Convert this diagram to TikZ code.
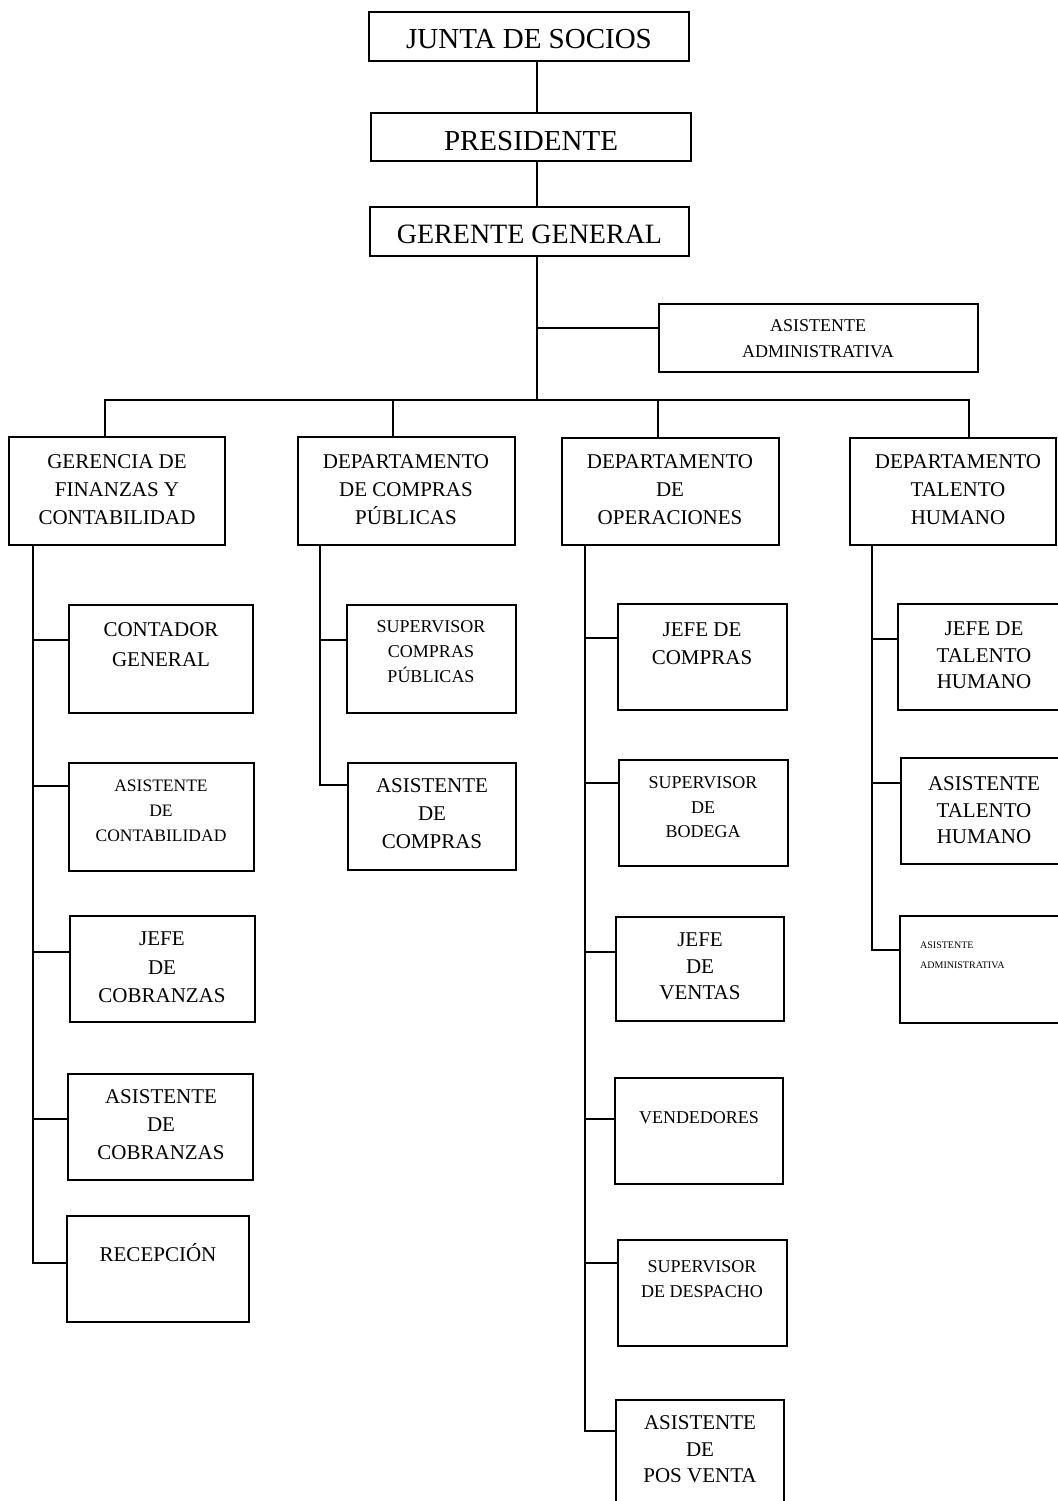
\documentclass[tikz,border=0pt]{standalone}
\usepackage{fontspec}
\setmainfont{Liberation Serif}
\tikzset{
  orgframe/.style={draw, line width=1.3pt, inner sep=0pt, outer sep=0pt},
  link/.style={line width=1.8pt, line cap=rect},
  lbl/.style={align=center, inner sep=0pt},
  big/.style={font=\fontsize{29}{34}\selectfont},
  mid/.style={font=\fontsize{21}{28}\selectfont},
  sml/.style={font=\fontsize{18}{25}\selectfont},
}
% \orgbox{name}{x1}{y1}{x2}{y2}: framed rectangle between two corners
\newcommand\orgbox[5]{%
  \node[orgframe, minimum width={(#4)-(#2)}, minimum height={(#5)-(#3)}]
    (#1) at ({(#2+#4)/2},{(#3+#5)/2}) {};}
\begin{document}
\begin{tikzpicture}[x=1pt,y=-1pt]
\useasboundingbox (0,0) rectangle (1057,1501);

% ---- top of the hierarchy
\orgbox{junta}{369}{12}{689}{61}
\orgbox{pres}{371}{113}{691}{161}
\orgbox{gg}{370}{207}{689}{256}
\orgbox{asis}{659}{304}{978}{372}
\node[lbl,big] (junta-t) at (529,39) {JUNTA DE SOCIOS};
\node[lbl,big] (pres-t) at (531,141) {PRESIDENTE};
\node[lbl,font=\fontsize{28}{34}\selectfont] (gg-t) at (529.5,234) {GERENTE GENERAL};
\node[lbl,font=\fontsize{18}{26}\selectfont] (asis-t) at (818,339) {ASISTENTE\\ADMINISTRATIVA};

% ---- departments
\orgbox{fin}{9}{437}{225}{545}
\orgbox{comp}{298}{437}{515}{545}
\orgbox{ops}{562}{438}{779}{545}
\orgbox{tal}{850}{438}{1056}{545}
\node[lbl,mid] (fin-t) at (117,490) {GERENCIA DE\\FINANZAS Y\\CONTABILIDAD};
\node[lbl,mid] (comp-t) at (406,490) {DEPARTAMENTO\\DE COMPRAS\\PÚBLICAS};
\node[lbl,mid] (ops-t) at (670,490) {DEPARTAMENTO\\DE\\OPERACIONES};
\node[lbl,mid] (tal-t) at (958,490) {DEPARTAMENTO\\TALENTO\\HUMANO};

% ---- finance column
\orgbox{cont}{69}{605}{253}{713}
\orgbox{asco}{69}{763}{254}{871}
\orgbox{jcob}{70}{916}{255}{1022}
\orgbox{acob}{68}{1074}{253}{1180}
\orgbox{rec}{67}{1216}{249}{1322}
\node[lbl,font=\fontsize{21}{30}\selectfont] (cont-t) at (161,645) {CONTADOR\\GENERAL};
\node[lbl,font=\fontsize{17.5}{25}\selectfont] (asco-t) at (161,811) {ASISTENTE\\DE\\CONTABILIDAD};
\node[lbl,font=\fontsize{21}{28.5}\selectfont] (jcob-t) at (162,967.5) {JEFE\\DE\\COBRANZAS};
\node[lbl,mid] (acob-t) at (161,1125) {ASISTENTE\\DE\\COBRANZAS};
\node[lbl,mid] (rec-t) at (158,1255) {RECEPCI\smash{Ó}N};

% ---- public purchasing column
\orgbox{supc}{347}{605}{516}{713}
\orgbox{ascp}{348}{763}{516}{870}
\node[lbl,sml] (supc-t) at (431,652) {SUPERVISOR\\COMPRAS\\PÚBLICAS};
\node[lbl,mid] (ascp-t) at (432,814) {ASISTENTE\\DE\\COMPRAS};

% ---- operations column
\orgbox{jcom}{618}{604}{787}{710}
\orgbox{sbod}{619}{760}{788}{866}
\orgbox{jven}{616}{917}{784}{1021}
\orgbox{vend}{615}{1078}{783}{1184}
\orgbox{sdes}{618}{1240}{787}{1346}
\orgbox{apv}{616}{1400}{784}{1505}
\node[lbl,mid] (jcom-t) at (702,644) {JEFE DE\\COMPRAS};
\node[lbl,font=\fontsize{18}{24.5}\selectfont] (sbod-t) at (703,807.5) {SUPERVISOR\\DE\\BODEGA};
\node[lbl,font=\fontsize{21}{26.5}\selectfont] (jven-t) at (700,966.5) {JEFE\\DE\\VENTAS};
\node[lbl,sml] (vend-t) at (699,1118) {VENDEDORES};
\node[lbl,sml] (sdes-t) at (702,1279.5) {SUPERVISOR\\DE DESPACHO};
\node[lbl,font=\fontsize{21}{26.5}\selectfont] (apv-t) at (700,1449.5) {ASISTENTE\\DE\\POS VENTA};

% ---- human talent column
\orgbox{jtal}{898}{604}{1070}{710}
\orgbox{atal}{901}{758}{1070}{864}
\orgbox{aadm}{900}{916}{1070}{1023}
\node[lbl,font=\fontsize{21}{26.5}\selectfont] (jtal-t) at (984,655.5) {JEFE DE\\TALENTO\\HUMANO};
\node[lbl,font=\fontsize{21}{26.5}\selectfont] (atal-t) at (984,810.5) {ASISTENTE\\TALENTO\\HUMANO};
\node[align=left, inner sep=0pt, anchor=west, font=\fontsize{10}{20}\selectfont] (aadm-t) at (920,955) {ASISTENTE\\ADMINISTRATIVA};

% ---- main spine and bus
\coordinate (spine) at (537,0);
\coordinate (busL) at (105,400);
\coordinate (busR) at (969,400);
\coordinate (d2) at (393,400);
\coordinate (d3) at (658,400);
\coordinate (asisj) at (537,328);
\draw[link] (junta.south -| spine) -- (pres.north -| spine);
\draw[link] (pres.south -| spine) -- (gg.north -| spine);
\draw[link] (gg.south -| spine) -- (busL -| spine);
\draw[link] (asisj) -- (asisj -| asis.west);
\draw[link] (busL) -- (busR);
\draw[link] (busL) -- (busL |- fin.north);
\draw[link] (d2) -- (d2 |- comp.north);
\draw[link] (d3) -- (d3 |- ops.north);
\draw[link] (busR) -- (busR |- tal.north);

% ---- department spines with their branches
\coordinate (j-cont) at (33,640);
\coordinate (j-asco) at (33,786);
\coordinate (j-jcob) at (33,952);
\coordinate (j-acob) at (33,1119);
\coordinate (j-rec) at (33,1263);
\draw[link] (fin.south -| j-cont) -- (j-rec);
\foreach \n in {cont,asco,jcob,acob,rec}
  \draw[link] (j-\n) -- (j-\n -| \n.west);

\coordinate (j-supc) at (320,640);
\coordinate (j-ascp) at (320,785);
\draw[link] (comp.south -| j-supc) -- (j-ascp);
\foreach \n in {supc,ascp}
  \draw[link] (j-\n) -- (j-\n -| \n.west);

\coordinate (j-jcom) at (585,638);
\coordinate (j-sbod) at (585,783);
\coordinate (j-jven) at (585,952);
\coordinate (j-vend) at (585,1119);
\coordinate (j-sdes) at (585,1263);
\coordinate (j-apv) at (585,1431);
\draw[link] (ops.south -| j-jcom) -- (j-apv);
\foreach \n in {jcom,sbod,jven,vend,sdes,apv}
  \draw[link] (j-\n) -- (j-\n -| \n.west);

\coordinate (j-jtal) at (872,639);
\coordinate (j-atal) at (872,783);
\coordinate (j-aadm) at (872,950);
\draw[link] (tal.south -| j-jtal) -- (j-aadm);
\foreach \n in {jtal,atal,aadm}
  \draw[link] (j-\n) -- (j-\n -| \n.west);
\end{tikzpicture}
\end{document}
